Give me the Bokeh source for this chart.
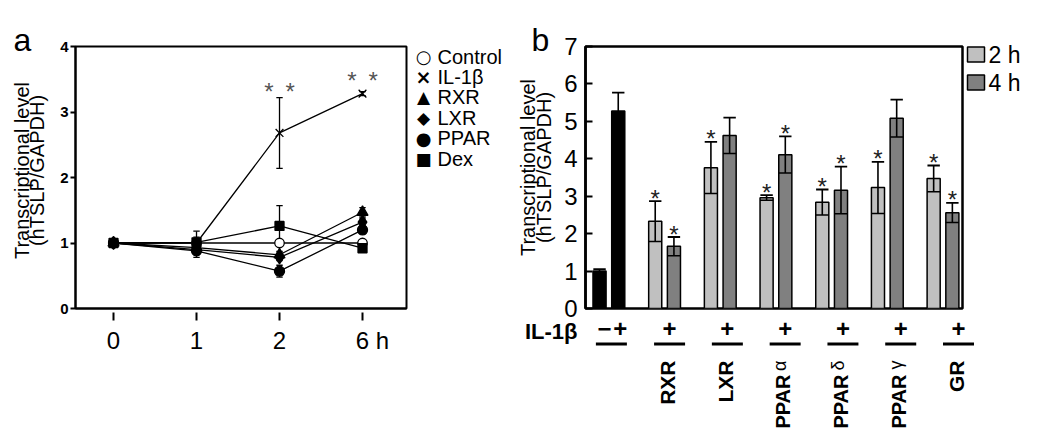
import math
from bokeh.plotting import figure
from bokeh.layouts import row
from bokeh.models import Range1d, FixedTicker
from bokeh.core.properties import value
from bokeh.embed import file_html
from bokeh.resources import INLINE

FONT = "Liberation Sans"
SYMFONT = "DejaVu Sans"

# ---------------- panel a data ----------------
time_points = [0, 1, 2, 3]
time_labels = ["0", "1", "2", "\u2007\u20086 h"]
series_names = ["Control", "IL-1β", "RXR", "LXR", "PPAR", "Dex"]
legend_symbols = ["○", "×", "▲", "◆", "●", "■"]
control = [1.0, 1.0, 1.0, 1.0]
control_err = [0.0, 0.02, 0.03, 0.03]
il1b = [1.0, 1.0, 2.68, 3.28]
il1b_err = [0.0, 0.18, 0.54, 0.03]
rxr = [1.0, 0.93, 0.82, 1.47]
rxr_err = [0.0, 0.04, 0.05, 0.07]
lxr = [1.0, 0.90, 0.78, 1.32]
lxr_err = [0.0, 0.04, 0.05, 0.06]
ppar = [1.0, 0.88, 0.57, 1.20]
ppar_err = [0.0, 0.10, 0.09, 0.06]
dex = [1.0, 1.01, 1.26, 0.92]
dex_err = [0.0, 0.08, 0.31, 0.05]
a_star_idx = [2, 3]
a_yticks = [0, 1, 2, 3, 4]

# ---------------- panel b data ----------------
b_categories = ["RXR", "LXR", "PPARα", "PPARδ", "PPARγ", "GR"]
ctrl_signs = ["−", "+"]
ctrl_vals = [1.00, 5.28]
ctrl_err = [0.05, 0.49]
h2_vals = [2.33, 3.76, 2.96, 2.84, 3.23, 3.47]
h2_err = [0.54, 0.69, 0.07, 0.34, 0.69, 0.35]
h4_vals = [1.66, 4.62, 4.11, 3.16, 5.08, 2.56]
h4_err = [0.25, 0.48, 0.49, 0.63, 0.50, 0.26]
h2_sig = [True, True, True, True, True, True]
h4_sig = [True, False, True, True, False, True]
b_yticks = [0, 1, 2, 3, 4, 5, 6, 7]
legend_b = ["2 h", "4 h"]

C2H = "#c0c0c0"
C4H = "#808080"

# ---------------- layout constants (pixels) ----------------
A_L, A_R, TOP, BOT = 75, 406, 46, 308
B_L, B_R = 585, 962
A_X0, A_X1 = -0.458, 3.53
B_X0, B_X1 = -0.42, 6.35
XPU_A = (A_R - A_L) / (A_X1 - A_X0)
YPU_A = (BOT - TOP) / 4
XPU_B = (B_R - B_L) / (B_X1 - B_X0)
YPU_B = (BOT - TOP) / 7


def pa_xy(px, py):
    return A_X0 + (px - A_L) / XPU_A, (BOT - py) / YPU_A


def pb_xy(px, py):
    return B_X0 + (px - B_L) / XPU_B, (BOT - py) / YPU_B


def base_fig(**kw):
    p = figure(output_backend="svg", toolbar_location=None, **kw)
    p.grid.visible = False
    p.background_fill_color = "white"
    p.border_fill_color = "white"
    return p


def txt(p, x, y, text, size, align="left", base="middle", angle=0.0, bold=False,
        color="black", overlay=True, font=FONT):
    r = p.text(x=[x], y=[y], text=[text], text_font=value(font),
               text_font_size=value(f"{size}px"), text_align=align, text_baseline=base,
               angle=angle, text_font_style="bold" if bold else "normal", text_color=color)
    if overlay:
        r.level = "overlay"
    return r


# ====================== panel a ======================
pa = base_fig(width=516, height=444, x_range=Range1d(A_X0, A_X1), y_range=Range1d(0, 4),
              min_border_left=A_L, min_border_right=516 - A_R, min_border_top=TOP,
              min_border_bottom=444 - BOT)
pa.outline_line_color = "black"
pa.outline_line_width = 2

xa = pa.xaxis[0]
xa.ticker = FixedTicker(ticks=time_points)
xa.major_label_overrides = {t: l for t, l in zip(time_points, time_labels)}
xa.major_tick_in = -4
xa.major_tick_out = 12
xa.major_tick_line_width = 2
xa.axis_line_width = 2
xa.minor_tick_line_color = None
xa.major_label_standoff = 6
xa.major_label_text_font = FONT
xa.major_label_text_font_size = "24px"
xa.major_label_text_color = "black"

ya = pa.yaxis[0]
ya.ticker = FixedTicker(ticks=a_yticks)
ya.major_tick_in = 0
ya.major_tick_out = 5
ya.major_tick_line_width = 2
ya.axis_line_width = 2
ya.minor_tick_line_color = None
ya.major_label_standoff = 2
ya.major_label_text_font = FONT
ya.major_label_text_font_size = "15px"
ya.major_label_text_font_style = "bold"
ya.major_label_text_color = "black"

series = [
    (control, control_err, dict(marker="circle", size=9.5, fill_color="white")),
    (il1b, il1b_err, dict(marker="x", size=11, fill_color="black")),
    (rxr, rxr_err, dict(marker="triangle", size=11, fill_color="black")),
    (lxr, lxr_err, dict(marker="diamond", size=13, fill_color="black")),
    (ppar, ppar_err, dict(marker="circle", size=10, fill_color="black")),
    (dex, dex_err, dict(marker="square", size=9, fill_color="black")),
]
cap_a = 3.2 / XPU_A
for ys, es, mk in series:
    pa.line(time_points, ys, line_color="black", line_width=1.3)
for ys, es, mk in series:
    sx = [x for x, e in zip(time_points, es) if e > 0]
    lo = [y - e for y, e in zip(ys, es) if e > 0]
    hi = [y + e for y, e in zip(ys, es) if e > 0]
    pa.segment(x0=sx, y0=lo, x1=sx, y1=hi, line_color="black", line_width=1.3)
    pa.segment(x0=[x - cap_a for x in sx], y0=hi, x1=[x + cap_a for x in sx], y1=hi,
               line_color="black", line_width=1.3)
    pa.segment(x0=[x - cap_a for x in sx], y0=lo, x1=[x + cap_a for x in sx], y1=lo,
               line_color="black", line_width=1.3)
for ys, es, mk in series:
    pa.scatter(time_points, ys, line_color="black", line_width=1.3, **mk)

for i, up in zip(a_star_idx, [6, 11.5]):
    txt(pa, time_points[i], il1b[i] + il1b_err[i] + up / YPU_A, "*\u2002*", 24,
        align="center", color="#555555", overlay=False)

x, y = pa_xy(13, 39)
txt(pa, x, y, "a", 32, base="alphabetic")
x, y = pa_xy(21.5, 170)
txt(pa, x, y, "Transcriptional level", 20, align="center", angle=math.pi / 2)
x, y = pa_xy(36.5, 170)
txt(pa, x, y, "(hTSLP/GAPDH)", 20, align="center", angle=math.pi / 2)

# legend of panel a (in the right border), symbols as text
sym_sizes = [18, 19, 17, 17, 18, 17]
for k, (name, sym, ss) in enumerate(zip(series_names, legend_symbols, sym_sizes)):
    mx, my = pa_xy(423, 56 + 20.4 * k)
    txt(pa, mx, my, sym, ss, align="center", font=SYMFONT, bold=(sym == "×"))
    tx, ty = pa_xy(437, 56 + 20.4 * k)
    txt(pa, tx, ty, name, 20)

# ====================== panel b ======================
pb = base_fig(width=1050 - 516, height=444, x_range=Range1d(B_X0, B_X1), y_range=Range1d(0, 7),
              x_axis_type=None, min_border_left=B_L - 516, min_border_right=1050 - B_R,
              min_border_top=TOP, min_border_bottom=444 - BOT)
pb.outline_line_color = "black"
pb.outline_line_width = 2.5

yb = pb.yaxis[0]
yb.ticker = FixedTicker(ticks=b_yticks)
yb.major_tick_in = 7
yb.major_tick_out = 0
yb.major_tick_line_width = 2
yb.axis_line_width = 2.5
yb.minor_tick_line_color = None
yb.major_label_standoff = 8
yb.major_label_text_font = FONT
yb.major_label_text_font_size = "24px"
yb.major_label_text_color = "black"

off = 0.168
bw = 0.235
ctrl_x = [-off, off]
grp = [i + 1 for i in range(len(b_categories))]
x2 = [g - off for g in grp]
x4 = [g + off for g in grp]

pb.vbar(x=ctrl_x, top=ctrl_vals, width=bw, fill_color="black", line_color="black", line_width=1.5)
pb.vbar(x=x2, top=h2_vals, width=bw, fill_color=C2H, line_color="black", line_width=1.5)
pb.vbar(x=x4, top=h4_vals, width=bw, fill_color=C4H, line_color="black", line_width=1.5)

all_x = ctrl_x + x2 + x4
all_v = ctrl_vals + h2_vals + h4_vals
all_e = ctrl_err + h2_err + h4_err
hi = [v + e for v, e in zip(all_v, all_e)]
lo = [v - e for v, e in zip(all_v, all_e)]
capb = 6.2 / XPU_B
pb.segment(x0=all_x, y0=lo, x1=all_x, y1=hi, line_color="black", line_width=1.6)
pb.segment(x0=[x - capb for x in all_x], y0=hi, x1=[x + capb for x in all_x], y1=hi,
           line_color="black", line_width=1.8)
pb.segment(x0=[x - bw / 2 for x in all_x], y0=lo, x1=[x + bw / 2 for x in all_x], y1=lo,
           line_color="black", line_width=1.5)

for xs, vs, es, sig in [(x2, h2_vals, h2_err, h2_sig), (x4, h4_vals, h4_err, h4_sig)]:
    for xx, v, e, s in zip(xs, vs, es, sig):
        if s:
            txt(pb, xx, v + e + 3 / YPU_B, "*", 24, align="center", color="#222222",
                overlay=False)

x, y = pb_xy(531, 39)
txt(pb, x, y, "b", 32, base="alphabetic")
x, y = pb_xy(527.5, 167)
txt(pb, x, y, "Transcriptional level", 20, align="center", angle=math.pi / 2)
x, y = pb_xy(543, 167)
txt(pb, x, y, "(hTSLP/GAPDH)", 20, align="center", angle=math.pi / 2)

# ---- treatment annotation rows under panel b ----
x, y = pb_xy(577, 330.5)
txt(pb, x, y, "IL-1β", 22, align="right", bold=True)
sign_y = pb_xy(0, 328)[1]
txt(pb, ctrl_x[0] + 5 / XPU_B, sign_y, ctrl_signs[0], 24, align="center", bold=True)
txt(pb, ctrl_x[1] + 2 / XPU_B, sign_y, ctrl_signs[1], 24, align="center", bold=True)
sign_dx = [5 + 2.1 * k for k in range(len(grp))]
for g, dx in zip(grp, sign_dx):
    txt(pb, g + dx / XPU_B, sign_y, "+", 24, align="center", bold=True)

ul_centers = [2.5 / XPU_B] + [g + dx / XPU_B for g, dx in zip(grp, sign_dx)]
hl = 15.5 / XPU_B
ul_y = pb_xy(0, 343.5)[1]
ul = pb.segment(x0=[c - hl for c in ul_centers], y0=[ul_y] * len(ul_centers),
                x1=[c + hl for c in ul_centers], y1=[ul_y] * len(ul_centers),
                line_color="black", line_width=3)
ul.level = "overlay"

# category labels: upright (reading upwards) under each treatment underline
top_y = 360
for k, (g, dx, name) in enumerate(zip(grp, sign_dx, b_categories)):
    main = name.rstrip("αδγ")
    greek = name[len(main):]
    lx = g + (dx - 2) / XPU_B
    if greek:
        gy = pb_xy(0, top_y)[1]
        txt(pb, lx - 3 / XPU_B, gy, greek, 18, align="right", angle=math.pi / 2)
        my = pb_xy(0, top_y + 14)[1]
        txt(pb, lx, my, main, 20, align="right", angle=math.pi / 2, bold=True)
    else:
        my = pb_xy(0, top_y)[1]
        txt(pb, lx, my, main, 21, align="right", angle=math.pi / 2, bold=True)

# legend of panel b (in the right border)
for k, (name, col) in enumerate(zip(legend_b, [C2H, C4H])):
    sx_, sy_ = pb_xy(975.5, 54 + 28 * k)
    r = pb.rect(x=[sx_], y=[sy_], width=17, height=15, width_units="screen",
                height_units="screen", fill_color=col, line_color="black", line_width=1.5)
    r.level = "overlay"
    tx, ty = pb_xy(988, 54 + 28 * k)
    txt(pb, tx, ty, name, 23)

layout = row(pa, pb)
open("out.html", "w").write(file_html(layout, INLINE))
